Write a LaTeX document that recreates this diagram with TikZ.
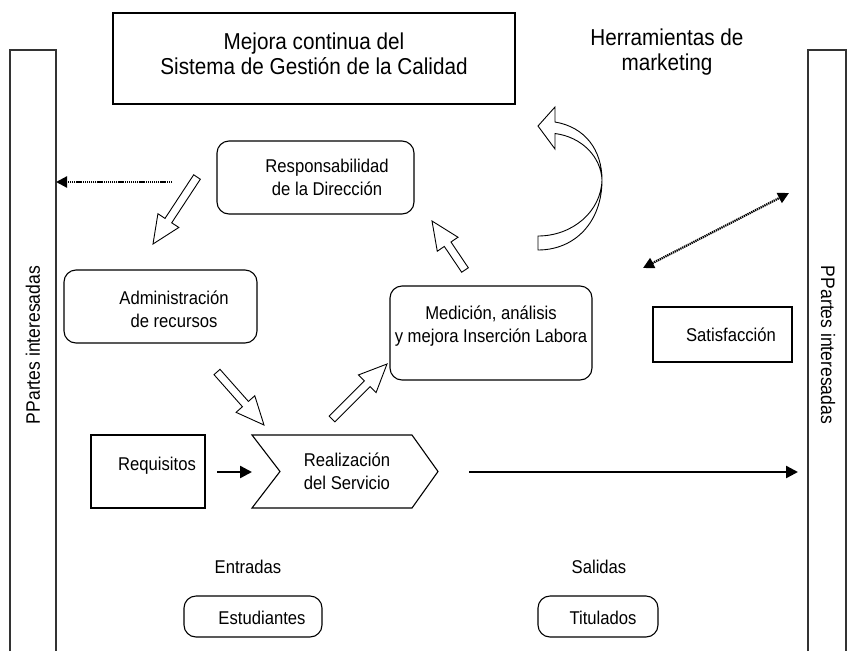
\documentclass[tikz,border=0pt]{standalone}
\usepackage{fontspec}
\setmainfont{Liberation Sans}[FakeStretch=0.9]
\usetikzlibrary{arrows.meta,calc}

% block arrow with a hollow head, drawn from tail #1 to tip #2
\newcommand{\hollowarrow}[2]{%
  \coordinate (ha-base) at ($(#2)!28pt!(#1)$);
  \draw[blockline]
    ($(#1)!4pt!90:(#2)$) -- ($(ha-base)!4pt!90:(#2)$) -- ($(ha-base)!12.5pt!90:(#2)$)
    -- (#2)
    -- ($(ha-base)!12.5pt!-90:(#2)$) -- ($(ha-base)!4pt!-90:(#2)$) -- ($(#1)!4pt!-90:(#2)$)
    -- cycle;}

\begin{document}
\begin{tikzpicture}[x=1pt,y=-1pt,
  every node/.style={font=\fontsize{18.5}{23}\selectfont, inner sep=0pt, align=center},
  bigtext/.style={font=\fontsize{23}{24.5}\selectfont},
  sqbox/.style={draw, line width=1.1pt},
  rbox/.style={draw, line width=1.1pt, rounded corners=12pt},
  blockline/.style={draw, fill=white, line width=0.9pt, line join=miter},
  bracket/.style={draw, line width=1.3pt, black!80},
  dotarrow/.style={line width=2.2pt, dash pattern=on 1.3pt off 0.8pt,
    -{Triangle[length=11pt,width=11pt]}},
  dotboth/.style={line width=2.2pt, dash pattern=on 1.3pt off 0.8pt,
    {Triangle[length=11pt,width=11pt]}-{Triangle[length=11pt,width=11pt]}},
  thickarrow/.style={line width=2.4pt, -{Triangle[length=12pt,width=12pt]}}]
\useasboundingbox (0,0) rectangle (851,651);

% interested parties on both sides
\draw[bracket] (10,651) -- (10,50) -- (56,50) -- (56,651);
\draw[bracket] (808,651) -- (808,50) -- (846,50) -- (846,651);
\coordinate (leftedge) at (56,182);
\node[rotate=90, font=\fontsize{19.5}{23}\selectfont] (pleft) at (33,345) {PPartes interesadas};
\node[rotate=-90, font=\fontsize{19.5}{23}\selectfont] (pright) at (828,345) {PPartes interesadas};

% boxes
\node[sqbox, minimum width=402pt, minimum height=91pt] (mejora) at (314,58.5) {};
\node[bigtext] (mejoratxt) at (314,54) {Mejora continua del\\Sistema de Gestión de la Calidad};
\node[bigtext] (herr) at (667,52) {Herramientas de\\marketing};

\node[rbox, minimum width=197pt, minimum height=73pt] (resp) at (315.5,177.5) {};
\node (resptxt) at (327,177) {Responsabilidad\\de la Dirección};

\node[rbox, minimum width=193pt, minimum height=73pt] (admin) at (160.5,306.5) {};
\node (admintxt) at (174,309) {Administración\\de recursos};

\node[rbox, minimum width=202pt, minimum height=94pt] (medic) at (491,333) {};
\node (medictxt) at (491,326) {Medición, análisis\\y mejora Inserción Labora};

\node[sqbox, minimum width=139pt, minimum height=55pt] (satis) at (722.5,334.5) {};
\node (satistxt) at (731,335) {Satisfacción};

\node[sqbox, minimum width=114pt, minimum height=73pt] (req) at (148,471.5) {};
\node (reqtxt) at (157,466) {Requisitos};

% service realisation chevron
\draw[line width=1.1pt, line join=miter] (252,435) -- (412,435) -- (438,471.5) -- (412,508)
  -- (252,508) -- (280,471.5) -- cycle;
\coordinate (chevleft) at (252,472);
\node (real) at (347,471) {Realización\\del Servicio};

% inputs and outputs
\node (entradas) at (248,567) {Entradas};
\node[rbox, minimum width=138pt, minimum height=41pt] (estud) at (253,616.5) {};
\node (estudtxt) at (262,618) {Estudiantes};
\node (salidas) at (599,567) {Salidas};
\node[rbox, minimum width=120pt, minimum height=41pt] (titul) at (598,616.5) {};
\node (titultxt) at (603,618) {Titulados};

% solid flow arrows
\coordinate (reqout) at (217,472);
\draw[thickarrow] (reqout) -- (chevleft);
\coordinate (outstart) at (469,472);
\coordinate (outend) at (798,472);
\draw[thickarrow] (outstart) -- (outend);

% dotted links to interested parties
\coordinate (dotstart) at (172,182);
\draw[dotarrow] (dotstart) -- (leftedge);
\coordinate (satisA) at (643,268);
\coordinate (satisB) at (789,193);
\draw[dotboth] (satisA) -- (satisB);

% hollow block arrows of the process cycle
\coordinate (a1t) at (197,177);  \coordinate (a1h) at (153,244);
\coordinate (a2t) at (217,372);  \coordinate (a2h) at (264,425);
\coordinate (a3t) at (332,419);  \coordinate (a3h) at (387,364);
\coordinate (a4t) at (465,270);  \coordinate (a4h) at (432,221);
\hollowarrow{a1t}{a1h}
\hollowarrow{a2t}{a2h}
\hollowarrow{a3t}{a3h}
\hollowarrow{a4t}{a4h}

% curved improvement arrow
\draw[blockline]
  (538,126) -- (555,107) -- (555,122)
  .. controls (585,127) and (602,150) .. (602,180)
  .. controls (602,222) and (575,250) .. (538,250)
  -- (538,236)
  .. controls (572,236) and (601,212) .. (602,180)
  .. controls (601,157) and (582,137) .. (555,133.5)
  -- (555,149) -- cycle;
\end{tikzpicture}
\end{document}
